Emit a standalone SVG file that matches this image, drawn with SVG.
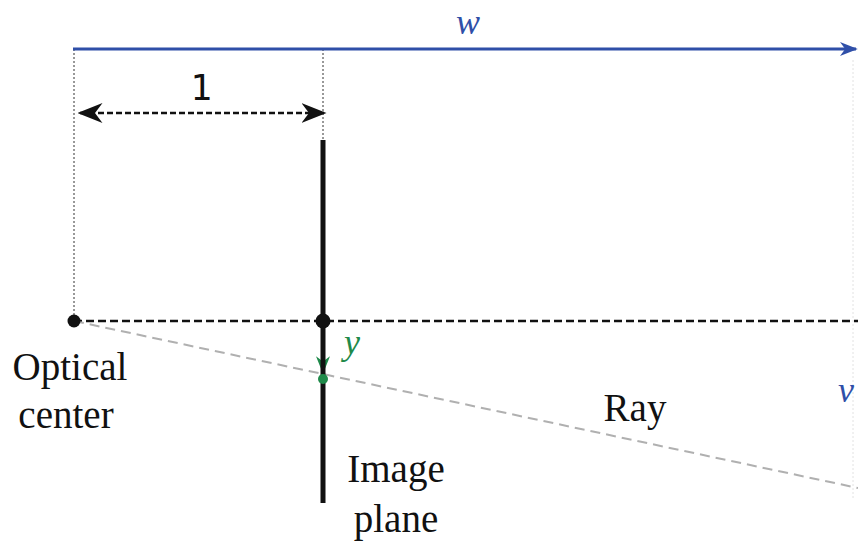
<svg xmlns="http://www.w3.org/2000/svg" width="858" height="543" viewBox="0 0 858 543">
<style>
.lbl{font-size:39px;fill:#111}
.math{font-style:italic;font-size:36px}
.guide{stroke:#333;stroke-width:1;stroke-dasharray:2 2;fill:none}
</style>
<defs>
<marker id="blueHead" viewBox="0 0 10 10" refX="9" refY="5" markerWidth="6" markerHeight="6" orient="auto" markerUnits="strokeWidth"><path d="M0,1 L10,5 L0,9 L3,5 Z" fill="#2f4fa8"/></marker>
<marker id="blackHead" viewBox="0 0 10 10" refX="9" refY="5" markerWidth="10" markerHeight="10" orient="auto-start-reverse" markerUnits="strokeWidth"><path d="M0,1 L10,5 L0,9 L3,5 Z" fill="#111"/></marker>
<marker id="greenHead" viewBox="0 0 10 10" refX="9" refY="5" markerWidth="7" markerHeight="7" orient="auto" markerUnits="strokeWidth"><path d="M0,1 L10,5 L0,9 L3,5 Z" fill="#1f8a4a"/></marker>
</defs>
<g id="connectors">
<line class="guide" x1="74" y1="49" x2="74" y2="321"/>
<line class="guide" x1="323" y1="49" x2="323" y2="140"/>
<line x1="853" y1="60" x2="853" y2="500" stroke="#e2e2e2" stroke-width="1" stroke-dasharray="2 2"/>
<line x1="73" y1="49" x2="856" y2="49" stroke="#2f4fa8" stroke-width="3" marker-end="url(#blueHead)"/>
<line x1="80" y1="113" x2="324" y2="113" stroke="#111" stroke-width="2.5" stroke-dasharray="6 3" marker-start="url(#blackHead)" marker-end="url(#blackHead)"/>
<line x1="74" y1="321" x2="858" y2="321" stroke="#111" stroke-width="2.5" stroke-dasharray="8 4"/>
<line x1="74" y1="321" x2="858" y2="488" stroke="#b0b0b0" stroke-width="2" stroke-dasharray="10 6"/>
<line x1="323" y1="326" x2="323" y2="372" stroke="#1f8a4a" stroke-width="2.5" marker-end="url(#greenHead)"/>
</g>
<g id="image-plane" font-family="Liberation Serif, DejaVu Serif, serif">
<line x1="323" y1="140" x2="323" y2="503" stroke="#111" stroke-width="5"/>
<circle cx="323" cy="321" r="7.5" fill="#111"/>
<circle cx="323" cy="379" r="5" fill="#1f8a4a"/>
<text class="lbl" x="396" y="482" text-anchor="middle">Image</text>
<text class="lbl" x="396" y="532" text-anchor="middle">plane</text>
</g>
<g id="optical-center" font-family="Liberation Serif, DejaVu Serif, serif">
<circle cx="74" cy="321" r="6.5" fill="#111"/>
<text class="lbl" x="70" y="380" text-anchor="middle">Optical</text>
<text class="lbl" x="66" y="428" text-anchor="middle">center</text>
</g>
<g id="labels" font-family="Liberation Serif, DejaVu Serif, serif">
<text class="math" x="468" y="34" text-anchor="middle" fill="#2f4fa8">w</text>
<text x="201" y="100" text-anchor="middle" font-family="DejaVu Sans Mono, Liberation Mono, monospace" font-size="36" fill="#111">1</text>
<text class="math" x="344" y="354" fill="#1f8a4a">y</text>
<text class="lbl" x="635" y="421" text-anchor="middle">Ray</text>
<text class="math" x="846" y="402" text-anchor="middle" fill="#2f4fa8">v</text>
</g>
</svg>
